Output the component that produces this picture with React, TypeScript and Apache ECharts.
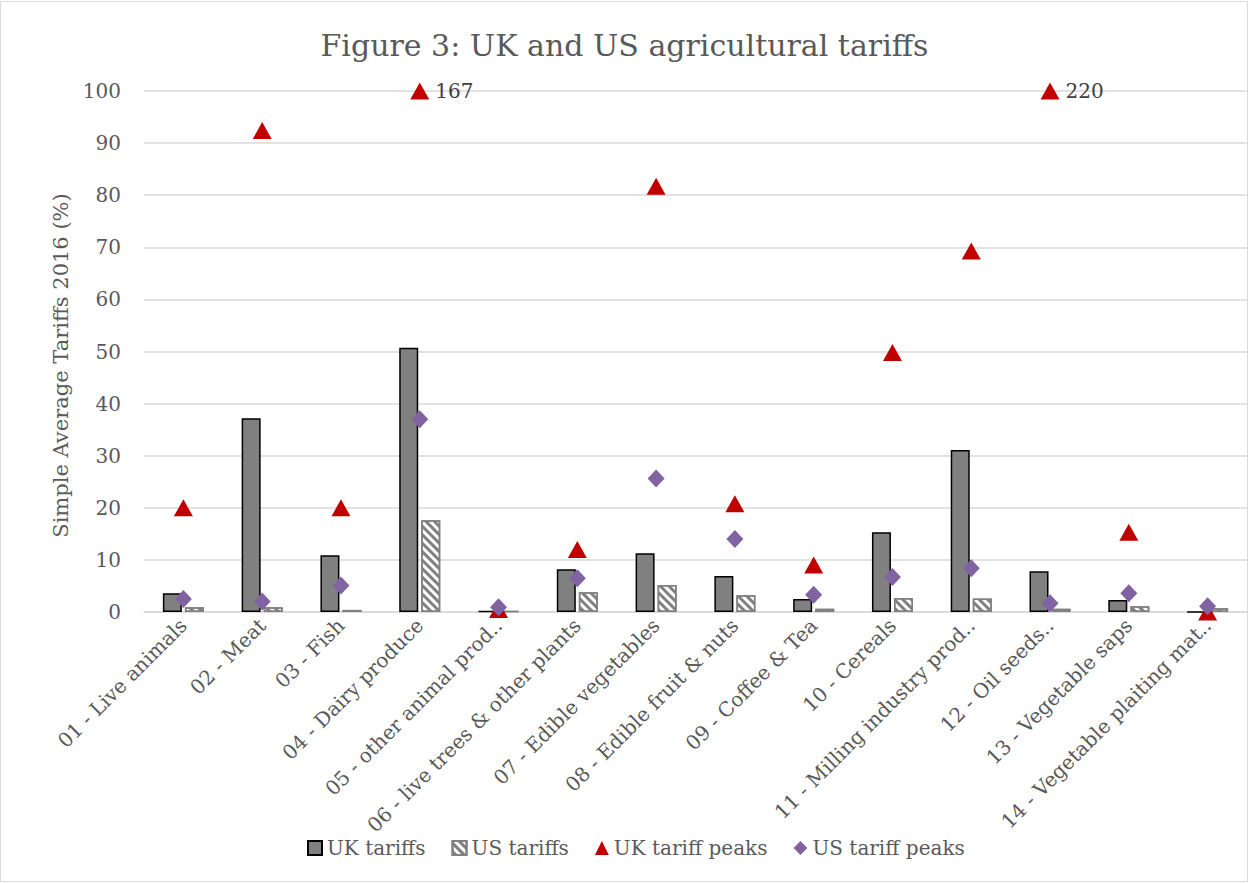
import React, { useEffect, useRef } from "react";
import * as echarts from "echarts";

const categories = [
  "01 - Live animals",
  "02 - Meat",
  "03 - Fish",
  "04 - Dairy produce",
  "05 - other animal prod..",
  "06 - live trees & other plants",
  "07 - Edible vegetables",
  "08 - Edible fruit & nuts",
  "09 - Coffee & Tea",
  "10 - Cereals",
  "11 - Milling industry prod..",
  "12 - Oil seeds..",
  "13 - Vegetable saps",
  "14 - Vegetable plaiting mat..",
];
const ukTariffs = [3.6, 37.2, 10.9, 50.7, 0.2, 8.2, 11.3, 6.9, 2.5, 15.3, 31.1, 7.8, 2.3, 0];
const usTariffs = [0.9, 0.9, 0.4, 17.6, 0.2, 3.8, 5.2, 3.2, 0.6, 2.7, 2.6, 0.6, 1.1, 0.7];
const ukPeaks = [20, 92.4, 20, 167, 0.5, 12, 81.7, 20.8, 9, 49.8, 69.3, 220, 15.3, 0];
const usPeaks = [2.5, 2, 5.1, 37, 0.9, 6.5, 25.6, 14, 3.3, 6.7, 8.4, 1.7, 3.6, 1.1];
const yTicks = { min: 0, max: 100, interval: 10 };

const FONT = "DejaVu Serif";
const GREY_TEXT = "#595959";

export default function App() {
  const ref = useRef<HTMLDivElement>(null);
  useEffect(() => {
    document.body.style.margin = "0";
    const chart = echarts.init(ref.current!, null, { renderer: "svg" });
    const cap = yTicks.max;
    chart.setOption({
      animation: false,
      backgroundColor: "#ffffff",
      textStyle: { fontFamily: FONT },
      title: {
        text: "Figure 3: UK and US agricultural tariffs",
        left: "center",
        top: 25,
        textStyle: { fontFamily: FONT, fontSize: 30, fontWeight: "normal", color: GREY_TEXT },
      },
      graphic: [
        {
          type: "rect",
          shape: { x: 0.5, y: 1.5, width: 1247, height: 880 },
          style: { fill: "none", stroke: "#d9d9d9", lineWidth: 1 },
          silent: true,
          z: -1,
        },
      ],
      legend: {
        bottom: 20,
        left: 302,
        itemWidth: 14,
        itemHeight: 14,
        itemGap: 26,
        textStyle: { fontFamily: FONT, fontSize: 20, color: GREY_TEXT },
        data: [
          { name: "UK tariffs", icon: "rect" },
          { name: "US tariffs", icon: "rect" },
          { name: "UK tariff peaks", icon: "triangle" },
          { name: "US tariff peaks", icon: "diamond" },
        ],
      },
      grid: { left: 144, right: 2, top: 91, bottom: 271, containLabel: false },
      xAxis: {
        type: "category",
        data: categories,
        axisLine: { lineStyle: { color: "#d9d9d9", width: 1.5 } },
        axisTick: { show: false },
        axisLabel: {
          rotate: 45,
          interval: 0,
          margin: 10,
          fontFamily: FONT,
          fontSize: 20,
          color: GREY_TEXT,
        },
      },
      yAxis: {
        type: "value",
        min: yTicks.min,
        max: yTicks.max,
        interval: yTicks.interval,
        name: "Simple Average Tariffs 2016 (%)",
        nameLocation: "middle",
        nameGap: 72,
        nameTextStyle: { fontFamily: FONT, fontSize: 21, color: GREY_TEXT, padding: [0, 28, 0, 0] },
        axisLine: { show: false },
        axisTick: { show: false },
        splitLine: { lineStyle: { color: "#d9d9d9", width: 1.5 } },
        axisLabel: { margin: 23, fontFamily: FONT, fontSize: 20, color: GREY_TEXT },
      },
      series: [
        {
          name: "UK tariffs",
          type: "bar",
          data: ukTariffs,
          barWidth: 19,
          barGap: "16%",
          itemStyle: { color: "#808080", borderColor: "#000000", borderWidth: 1.5 },
        },
        {
          name: "US tariffs",
          type: "bar",
          data: usTariffs,
          barWidth: 19,
          itemStyle: {
            color: "#ffffff",
            borderColor: "#808080",
            borderWidth: 1.5,
            decal: {
              symbol: "rect",
              symbolSize: 1,
              color: "#808080",
              dashArrayX: [1, 0],
              dashArrayY: [3, 3],
              rotation: Math.PI / 4,
            },
          },
        },
        {
          name: "UK tariff peaks",
          type: "scatter",
          symbol: "triangle",
          symbolSize: [19, 17],
          data: ukPeaks.map((v) => ({
            value: Math.min(v, cap),
            label: v > cap ? { show: true, formatter: String(v) } : { show: false },
          })),
          itemStyle: { color: "#c00000", opacity: 1 },
          label: {
            position: "right",
            distance: 6,
            fontFamily: FONT,
            fontSize: 20,
            color: "#404040",
          },
          z: 3,
        },
        {
          name: "US tariff peaks",
          type: "scatter",
          symbol: "diamond",
          symbolSize: [17, 18],
          data: usPeaks,
          itemStyle: { color: "#8064a2", opacity: 1 },
          z: 4,
        },
      ],
    });
    return () => chart.dispose();
  }, []);
  return <div ref={ref} style={{ width: 1249, height: 883 }} />;
}
